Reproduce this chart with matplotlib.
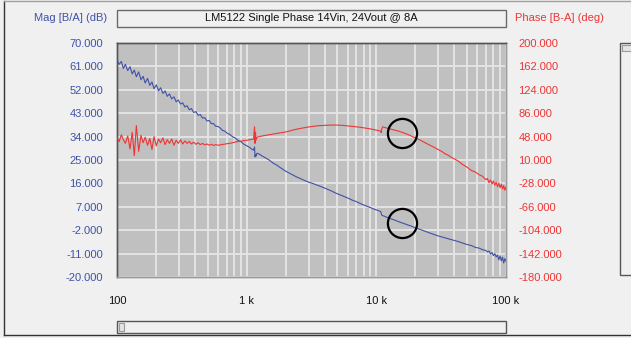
import matplotlib
matplotlib.use("Agg")
import matplotlib.pyplot as plt
from matplotlib.patches import Rectangle
from matplotlib.lines import Line2D
from matplotlib.ticker import FixedLocator, FixedFormatter, NullFormatter

plt.rcParams['font.family'] = ['Liberation Sans', 'DejaVu Sans']

# ---------------- data ----------------
title = "LM5122 Single Phase 14Vin, 24Vout @ 8A"
mag_label = "Mag [B/A] (dB)"
phase_label = "Phase [B-A] (deg)"

freq = [100, 104, 108, 112, 116, 121, 126, 131, 136, 141, 147, 153, 159, 165, 172, 179,
        186, 193, 201, 209, 217, 226, 235, 244, 254, 264, 275, 286, 297, 309, 321, 334,
        347, 361, 375, 390, 406, 422, 439, 457, 475, 494, 514, 534, 555, 577, 600,
        625, 650, 680, 710, 740, 780, 820, 860, 900, 950, 1000, 1050, 1100, 1130, 1150,
        1160, 1170, 1180, 1200, 1250, 1300, 1400, 1500, 1600, 1700, 1800, 2000, 2200,
        2400, 2600, 2800, 3000, 3300, 3600, 4000, 4500, 5000, 5500, 6000, 6500, 7000,
        7500, 8000, 8500, 9000, 9500, 10000, 10500, 10800, 10900, 11000, 11200, 11500,
        12000, 13000, 14000, 15000, 16000, 17000, 18000, 19000, 20000, 22000, 24000,
        26000, 28000, 30000, 32000, 34000, 36000, 38000, 40000, 43000, 46000, 50000,
        54000, 58000, 62000, 66000, 70000, 72000, 74000, 76000, 78000, 80000, 82000,
        84000, 86000, 88000, 90000, 92000, 94000, 96000, 98000, 100000]

mag_db = [63.4, 61.8, 62.9, 60.2, 61.8, 59.4, 60.9, 58.1, 59.6, 57.0, 58.9, 55.9, 57.2, 54.6,
          56.4, 53.7, 55.0, 52.4, 53.9, 51.6, 52.8, 50.6, 51.6, 49.5, 50.4, 48.5, 49.3, 47.4,
          48.1, 46.5, 47.0, 45.4, 45.9, 44.3, 44.8, 43.3, 43.6, 42.2, 42.5, 41.1, 41.3, 40.0,
          40.2, 39.0, 39.0, 38.0, 37.9,
          37.3, 36.4, 36.1, 35.2, 34.9, 33.9, 33.4, 32.5, 32.1, 31.1, 30.5, 29.9, 29.1, 28.8,
          30.0, 26.2, 27.0, 26.5, 27.6, 27.3, 26.7, 25.8, 24.9, 23.8, 23.1, 22.2, 20.7, 19.6,
          18.6, 17.8, 17.1, 16.5, 15.8, 15.1, 14.2, 13.1, 12.0, 11.2, 10.4, 9.6, 9.0,
          8.3, 7.7, 7.2, 6.7, 6.2, 5.8, 5.4, 5.2, 4.6, 3.8, 3.6, 3.4,
          3.0, 2.4, 1.8, 1.2, 0.7, 0.2, -0.2, -0.6, -1.1, -1.8, -2.5,
          -3.1, -3.7, -4.2, -4.6, -5.0, -5.3, -5.7, -6.0, -6.4, -6.9, -7.5,
          -7.9, -8.6, -8.9, -9.5, -9.8, -10.4, -10.0, -11.2, -10.6, -11.8, -11.0,
          -12.3, -11.5, -13.4, -11.9, -13.8, -12.4, -14.6, -12.9, -14.0]

phase_deg = [46, 40, 51, 43, 37, 49, 28, 55, 17, 66, 24, 50, 38, 47, 34, 45,
             27, 48, 33, 44, 38, 46, 35, 43, 37, 44, 34, 42, 37, 43, 36, 41,
             37, 40, 36, 39, 35.5, 38, 35, 37, 34.5, 36, 34, 35.5, 33.5, 35, 34,
             34.5, 35.2, 35.8, 36.6, 37.0, 38.2, 39.2, 40.1, 40.6, 41.5, 42.0, 42.8, 43.4, 44.0,
             64.0, 37.0, 55.0, 42.0, 47.0, 48.0, 48.8, 50.0, 51.2, 52.3, 53.0, 54.0, 55.5, 57.8,
             59.8, 61.3, 62.5, 63.6, 64.8, 65.7, 66.3, 66.8, 66.7, 66.2, 65.4, 64.7, 63.9,
             63.2, 62.3, 61.4, 60.5, 59.4, 58.5, 57.5, 57.0, 54.5, 60.0, 64.0, 63.0,
             62.0, 60.2, 58.4, 56.6, 54.6, 52.4, 50.4, 48.0, 46.0, 41.8, 37.6,
             33.8, 30.5, 26.8, 23.8, 20.0, 17.5, 14.0, 11.8, 8.0, 3.0, -1.5,
             -7.0, -9.5, -14.0, -16.5, -22.0, -20.0, -27.0, -22.5, -29.0, -24.0, -31.0,
             -26.0, -33.5, -27.5, -35.0, -29.0, -37.0, -31.5, -39.0, -34.0]

mag_ticks = [70, 61, 52, 43, 34, 25, 16, 7, -2, -11, -20]
phase_ticks = [200, 162, 124, 86, 48, 10, -28, -66, -104, -142, -180]
x_ticks = [100, 1000, 10000, 100000]
x_tick_labels = ["100", "1 k", "10 k", "100 k"]

# annotation circles (frequency, value) around the crossover points
circle_freq = 15700
circle_phase = 53.5
circle_mag = 0.9

# ---------------- styling ----------------
W, H = 631, 338
BG = "#f0f0f0"
PLOT_BG = "#c0c0c0"
GRID = "#e6e6e6"
BLUE = "#3f52a6"
RED = "#ee3535"

fig = plt.figure(figsize=(W / 100, H / 100), dpi=100, facecolor=BG)

L, R, T, B = 117, 506, 43, 277
ax = fig.add_axes([L / W, 1 - B / H, (R - L) / W, (B - T) / H])
ax.set_facecolor(PLOT_BG)
ax.set_xscale('log')
ax.set_xlim(100, 100000)
ax.set_ylim(-20, 70)

minor = [m * 10 ** e for e in range(2, 5) for m in range(2, 10)]
ax.xaxis.set_major_locator(FixedLocator(x_ticks))
ax.xaxis.set_major_formatter(FixedFormatter(x_tick_labels))
ax.xaxis.set_minor_locator(FixedLocator(minor))
ax.xaxis.set_minor_formatter(NullFormatter())
ax.set_yticks(mag_ticks)
ax.set_yticklabels([f"{v:.3f}" for v in mag_ticks])
ax.grid(True, which='both', axis='x', color=GRID, lw=1.3)
ax.grid(True, which='major', axis='y', color=GRID, lw=1.3)
ax.set_axisbelow(True)

ax.tick_params(axis='x', which='both', length=0, pad=14, labelsize=8, colors='#111111')
ax.tick_params(axis='y', length=0, pad=10, labelsize=8, labelcolor=BLUE)

ax2 = ax.twinx()
ax2.set_ylim(-180, 200)
ax2.set_yticks(phase_ticks)
ax2.set_yticklabels([f"{v:.3f}" for v in phase_ticks])
ax2.tick_params(axis='y', length=0, pad=9, labelsize=8, labelcolor=RED)

for a in (ax, ax2):
    a.spines['left'].set_color('#555555')
    a.spines['top'].set_color('#555555')
    a.spines['right'].set_color('#9a9a9a')
    a.spines['bottom'].set_color('#9a9a9a')
    for s in a.spines.values():
        s.set_linewidth(1.0)

ax.plot(freq, mag_db, color=BLUE, lw=0.8, zorder=3)
ax2.plot(freq, phase_deg, color=RED, lw=0.8, zorder=3)

ax.plot([circle_freq], [circle_mag], marker='o', ms=21, mfc='none', mec='black', mew=1.6,
        zorder=5, clip_on=False)
ax2.plot([circle_freq], [circle_phase], marker='o', ms=21, mfc='none', mec='black', mew=1.6,
         zorder=5, clip_on=False)

# ---------------- window chrome ----------------
def px_rect(x0, y0, x1, y1, **kw):
    r = Rectangle((x0 / W, 1 - y1 / H), (x1 - x0) / W, (y1 - y0) / H,
                  transform=fig.transFigure, **kw)
    fig.add_artist(r)
    return r

# title box
px_rect(117, 9.5, 506, 27, facecolor=BG, edgecolor='#6a6a6a', lw=1.0)
fig.text((117 + 506) / 2 / W, 1 - 18 / H, title, ha='center', va='center',
         fontsize=8, color='#111111')
fig.text(107 / W, 1 - 18 / H, mag_label, ha='right', va='center', fontsize=8, color=BLUE)
fig.text(515 / W, 1 - 18 / H, phase_label, ha='left', va='center', fontsize=8, color=RED)

# right vertical scrollbar
px_rect(620, 43, 633, 275, facecolor=BG, edgecolor='#555555', lw=1.0)
px_rect(622, 45, 633, 51, facecolor='#e4e4e4', edgecolor='#9a9a9a', lw=0.8)

# bottom horizontal scrollbar
px_rect(117, 321, 506, 333, facecolor=BG, edgecolor='#555555', lw=1.0)
px_rect(119, 323, 124, 331, facecolor='#e4e4e4', edgecolor='#9a9a9a', lw=0.8)

# outer frame lines
fig.add_artist(Line2D([4 / W, 4 / W], [1 - 335 / H, 1 - 1 / H], transform=fig.transFigure,
                      color='#333333', lw=1.0))
fig.add_artist(Line2D([4 / W, 1.0], [1 - 335 / H, 1 - 335 / H], transform=fig.transFigure,
                      color='#333333', lw=1.0))
fig.add_artist(Line2D([4 / W, 1.0], [1 - 1 / H, 1 - 1 / H], transform=fig.transFigure,
                      color='#a0a0a0', lw=1.0))

fig.savefig("out.png", dpi=100, facecolor=BG)
